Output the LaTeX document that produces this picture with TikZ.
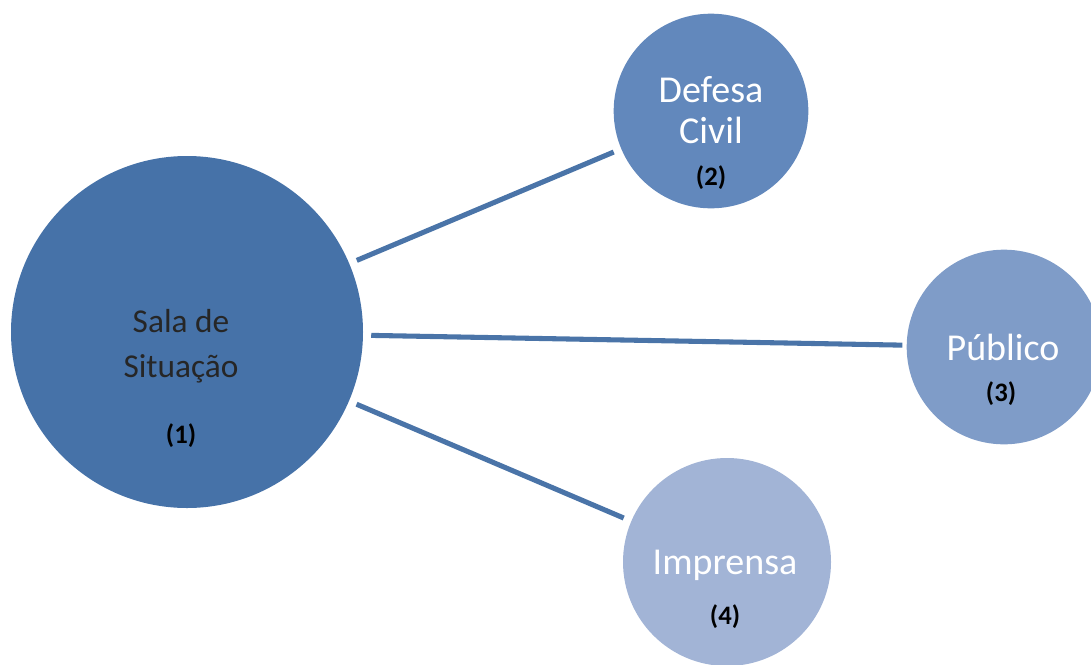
\documentclass[tikz,border=0pt]{standalone}
\usepackage{fontspec}
\setmainfont{Carlito}
\definecolor{c1}{RGB}{70,114,168}
\definecolor{c2}{RGB}{98,136,188}
\definecolor{c3}{RGB}{127,156,200}
\definecolor{c4}{RGB}{162,180,214}
\definecolor{lc}{RGB}{74,116,168}
\tikzset{
  bub/.style={circle, inner sep=0pt, draw=none},
  wt/.style={text=white, font=\fontsize{28.5}{31}\selectfont, align=center},
  bt/.style={text=black!85, font=\fontsize{25}{34}\selectfont, align=center},
  num/.style={text=black, font=\bfseries\fontsize{20}{22}\selectfont},
  con/.style={draw=lc, line width=3.8pt}
}
\begin{document}
\begin{tikzpicture}[x=0.75pt,y=-0.75pt]
\useasboundingbox (0,0) rectangle (1091,664);
\begin{scope}
\clip (0,0) rectangle (1091,664);
\node[bub, fill=c1, minimum size=264pt] (s) at (187,332) {};
\node[bub, fill=c2, minimum size=146pt] (d) at (711,111) {};
\node[bub, fill=c3, minimum size=146pt] (p) at (1004,347) {};
\node[bub, fill=c4, minimum size=156pt] (i) at (727,562) {};
\end{scope}
\draw[con, shorten <=6pt, shorten >=6pt] (s) -- (d);
\draw[con, shorten <=6pt, shorten >=3pt] (s) -- (p);
\draw[con, shorten <=6pt, shorten >=6pt] (s) -- (i);
\node[bt] (st) at (181,346) {Sala de\\Situação};
\node[num] (n1) at (181,436) {(1)};
\node[wt] (dt) at (711,110) {Defesa\\Civil};
\node[num] (n2) at (711,178) {(2)};
\node[wt] (pt) at (1003,347) {Público};
\node[num] (n3) at (1001,394) {(3)};
\node[wt] (it) at (725,565) {Imprensa};
\node[num] (n4) at (725,617) {(4)};
\end{tikzpicture}
\end{document}
